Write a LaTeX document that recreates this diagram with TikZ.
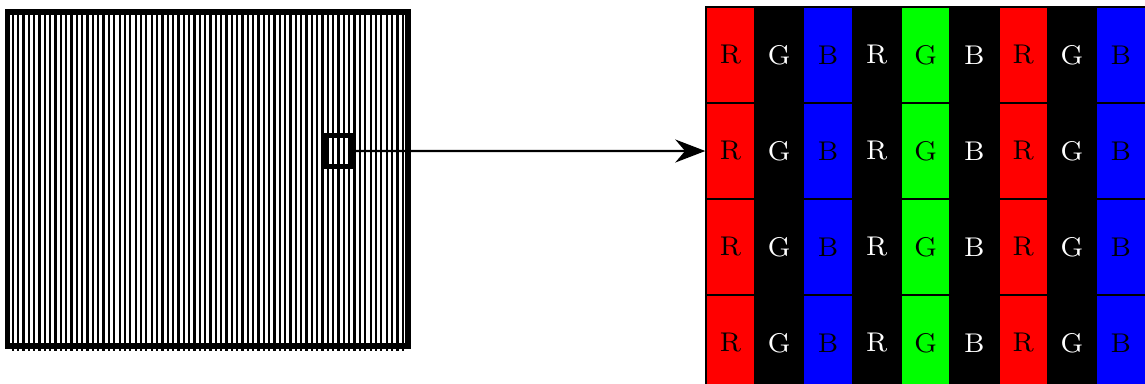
\documentclass[tikz,border=0pt]{standalone}
\usepackage{xcolor}
\usetikzlibrary{arrows.meta}

\begin{document}
\begin{tikzpicture}[thick]
	\tikzset{screen line/.style={line width=0.65pt}}
	\tikzset{subpixel/.style={draw=black, line width=0.4pt, minimum width=0.488cm, minimum height=0.96cm, inner sep=0pt, font=\fontsize{7.7}{9}\selectfont}}
	\useasboundingbox (0,0) rectangle (11.45,3.83);

	\foreach \k in {1,...,74}
		\draw[screen line] (0.075+0.0534*\k, 3.71) -- (0.075+0.0534*\k, 0.32);
	\draw[line width=1.5pt] (0.075,0.37) rectangle (4.08,3.71);
	\node[draw, line width=1.6pt, minimum width=0.26cm, minimum height=0.31cm, inner sep=0pt] (zoombox) at (3.385,2.32) {};

	\foreach \lab/\bg/\fg [count=\i] in {R/red/black, G/black/white, B/blue/black, R/black/white, G/green/black, B/black/white, R/red/black, G/black/white, B/blue/black}
		\foreach \j in {1,...,4}
			\node[subpixel, fill=\bg, text=\fg] (c\i\j) at (7.06+0.488*\i-0.244, 3.76-0.96*\j+0.48) {\lab};

	\draw[-{Stealth[length=3mm,width=2.3mm]},line width=0.6pt] (zoombox) -- (c12);
\end{tikzpicture}
\end{document}
